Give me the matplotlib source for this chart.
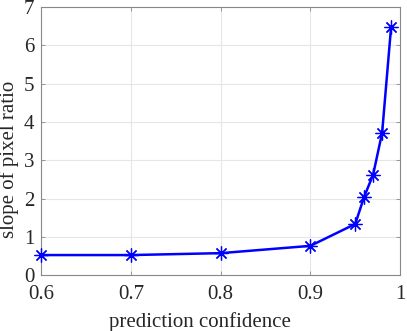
import matplotlib
matplotlib.use("Agg")
import matplotlib.pyplot as plt

confidence = [0.6, 0.7, 0.8, 0.9, 0.95, 0.96, 0.97, 0.98, 0.99]
slope = [0.53, 0.53, 0.58, 0.77, 1.34, 2.05, 2.63, 3.72, 6.48]
xticks = [0.6, 0.7, 0.8, 0.9, 1.0]
xticklabels = ["0.6", "0.7", "0.8", "0.9", "1"]
yticks = [0, 1, 2, 3, 4, 5, 6, 7]

plt.rcParams['font.family'] = ['Liberation Serif', 'DejaVu Serif']

fig = plt.figure(figsize=(4.07, 3.31), dpi=100)
ax = fig.add_axes([0.101, 0.168, 0.882, 0.811])

ax.plot(confidence, slope, color='#0000ff', lw=1.8, marker=(8, 2, 0), markersize=10,
        markeredgewidth=0.9, markeredgecolor='#0000ff', clip_on=False, zorder=3)

ax.set_xlim(0.6, 1.0)
ax.set_ylim(0, 7)
ax.set_xticks(xticks)
ax.set_xticklabels(xticklabels)
ax.set_yticks(yticks)
ax.grid(True, color='#e6e6e6', lw=0.8)
ax.set_axisbelow(True)

edge = '#262626'
for s in ax.spines.values():
    s.set_color('#888888')
    s.set_linewidth(0.8)
ax.tick_params(direction='in', length=3, width=0.6, colors='#888888',
               labelcolor=edge, labelsize=15, top=True, right=True)
ax.tick_params(axis='x', pad=7)
ax.tick_params(axis='y', pad=5)
ax.set_xlabel('prediction confidence', fontsize=15, color=edge)
ax.set_ylabel('slope of pixel ratio', fontsize=15, color=edge)
ax.xaxis.set_label_coords(0.443, -0.135)
ax.yaxis.set_label_coords(-0.062, 0.434)

fig.savefig('out.png', dpi=100)
